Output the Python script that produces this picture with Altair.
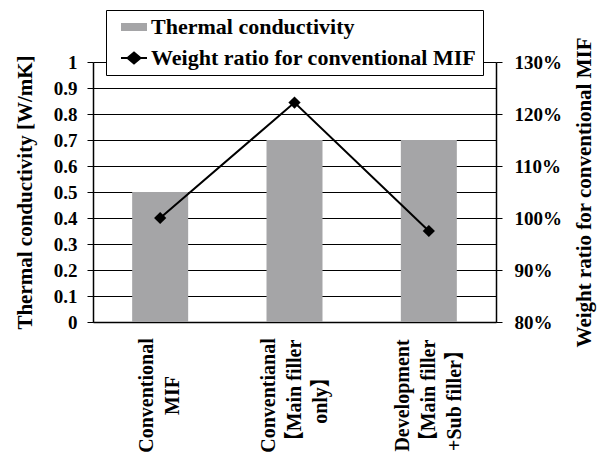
import altair as alt
import pandas as pd

# ---- data ----
categories = [
    "Conventional|MIF",
    "Conventianal|【Main filler|only】",
    "Development|【Main filler|+Sub filler】",
]
conductivity = [0.5, 0.7, 0.7]          # W/mK
weight_ratio = [1.00, 1.222, 0.975]     # relative to conventional MIF
left_ticks = [0, 0.1, 0.2, 0.3, 0.4, 0.5, 0.6, 0.7, 0.8, 0.9, 1.0]
right_ticks = [0.8, 0.9, 1.0, 1.1, 1.2, 1.3]
series = ["Thermal conductivity", "Weight ratio for conventional MIF"]

df = pd.DataFrame({
    "category": categories,
    "conductivity": conductivity,
    "ratio": weight_ratio,
    "series": [series[0]] * len(categories),
})

FONT = "Liberation Serif, Noto Sans CJK JP, serif"
GRAY = "#a5a5a7"
IS_A = "datum.value === 'Thermal conductivity'"

x_enc = alt.X(
    "category:N",
    sort=categories,
    scale=alt.Scale(paddingInner=0, paddingOuter=0),
    axis=alt.Axis(
        title=None,
        labelAngle=270,
        labelAlign="center",
        labelBaseline="middle",
        labelPadding=73,
        labelLineHeight=26,
        labelOffset={"expr": "-13 * (length(split(datum.value, '|')) - 1)"},
        labelExpr="split(datum.label, '|')",
        labelFont=FONT,
        labelFontSize=20,
        labelFontWeight="bold",
        labelColor="black",
        ticks=False,
        domainColor="black",
        domainWidth=1.5,
    ),
)

legend = alt.Legend(
    title=None,
    orient="none",
    legendX=13,
    legendY=-52,
    direction="vertical",
    fillColor="white",
    strokeColor="black",
    padding=6,
    rowPadding=9,
    symbolOffset=11,
    labelOffset=6,
    labelLimit=500,
    symbolSize=676,
    symbolOpacity=1,
    symbolType={"expr": IS_A + " ? 'M-1,-0.31L1,-0.31L1,0.31L-1,0.31Z' : 'M-1,0L1,0M-0.5,0L0,-0.42L0.5,0L0,0.42Z'"},
    symbolStrokeColor={"expr": IS_A + " ? '#a5a5a7' : 'black'"},
    symbolStrokeWidth={"expr": IS_A + " ? 0 : 2"},
    labelFont=FONT,
    labelFontSize=22,
    labelFontWeight="bold",
    labelColor="black",
)

bars = alt.Chart(df).mark_bar(width=56).encode(
    x=x_enc,
    y=alt.Y(
        "conductivity:Q",
        scale=alt.Scale(domain=[0, 1], nice=False),
        axis=alt.Axis(
            title="Thermal conductivity [W/mK]",
            values=left_ticks,
            format=".1~f",
            grid=True,
            gridColor="black",
            gridWidth=1,
            tickColor="black",
            tickSize=6,
            labelPadding=10,
            labelFont=FONT,
            labelFontSize=19,
            labelFontWeight="bold",
            labelColor="black",
            titleFont=FONT,
            titleFontSize=21,
            titleFontWeight="bold",
            titleColor="black",
            titlePadding=18,
            domainColor="black",
            domainWidth=1.5,
        ),
    ),
    color=alt.Color(
        "series:N",
        scale=alt.Scale(domain=series, range=[GRAY, "black"]),
        legend=legend,
    ),
)

right_axis = alt.Axis(
    title="Weight ratio for conventional MIF",
    orient="right",
    titleAngle=270,
    titleBaseline="top",
    values=right_ticks,
    format=".0%",
    grid=False,
    tickColor="black",
    tickSize=6,
    labelPadding=12,
    labelFont=FONT,
    labelFontSize=19,
    labelFontWeight="bold",
    labelColor="black",
    titleFont=FONT,
    titleFontSize=21,
    titleFontWeight="bold",
    titleColor="black",
    titlePadding=12,
    domainColor="black",
    domainWidth=1.5,
)
y_right = alt.Y("ratio:Q", scale=alt.Scale(domain=[0.8, 1.3], nice=False, zero=False), axis=right_axis)

right_layer = alt.Chart(df).mark_line(
    color="black",
    strokeWidth=2,
    point=alt.OverlayMarkDef(shape="diamond", filled=True, size=150, color="black", opacity=1),
).encode(x=x_enc, y=y_right)

chart = alt.layer(bars, right_layer).resolve_scale(y="independent").properties(
    width=403,
    height=260,
    padding={"left": 93, "top": 62, "right": 109, "bottom": 133},
    autosize=alt.AutoSizeParams(type="none"),
).configure_view(stroke=None).configure(background="white")

chart.save("out.html", embed_options={"renderer": "svg", "actions": False})
